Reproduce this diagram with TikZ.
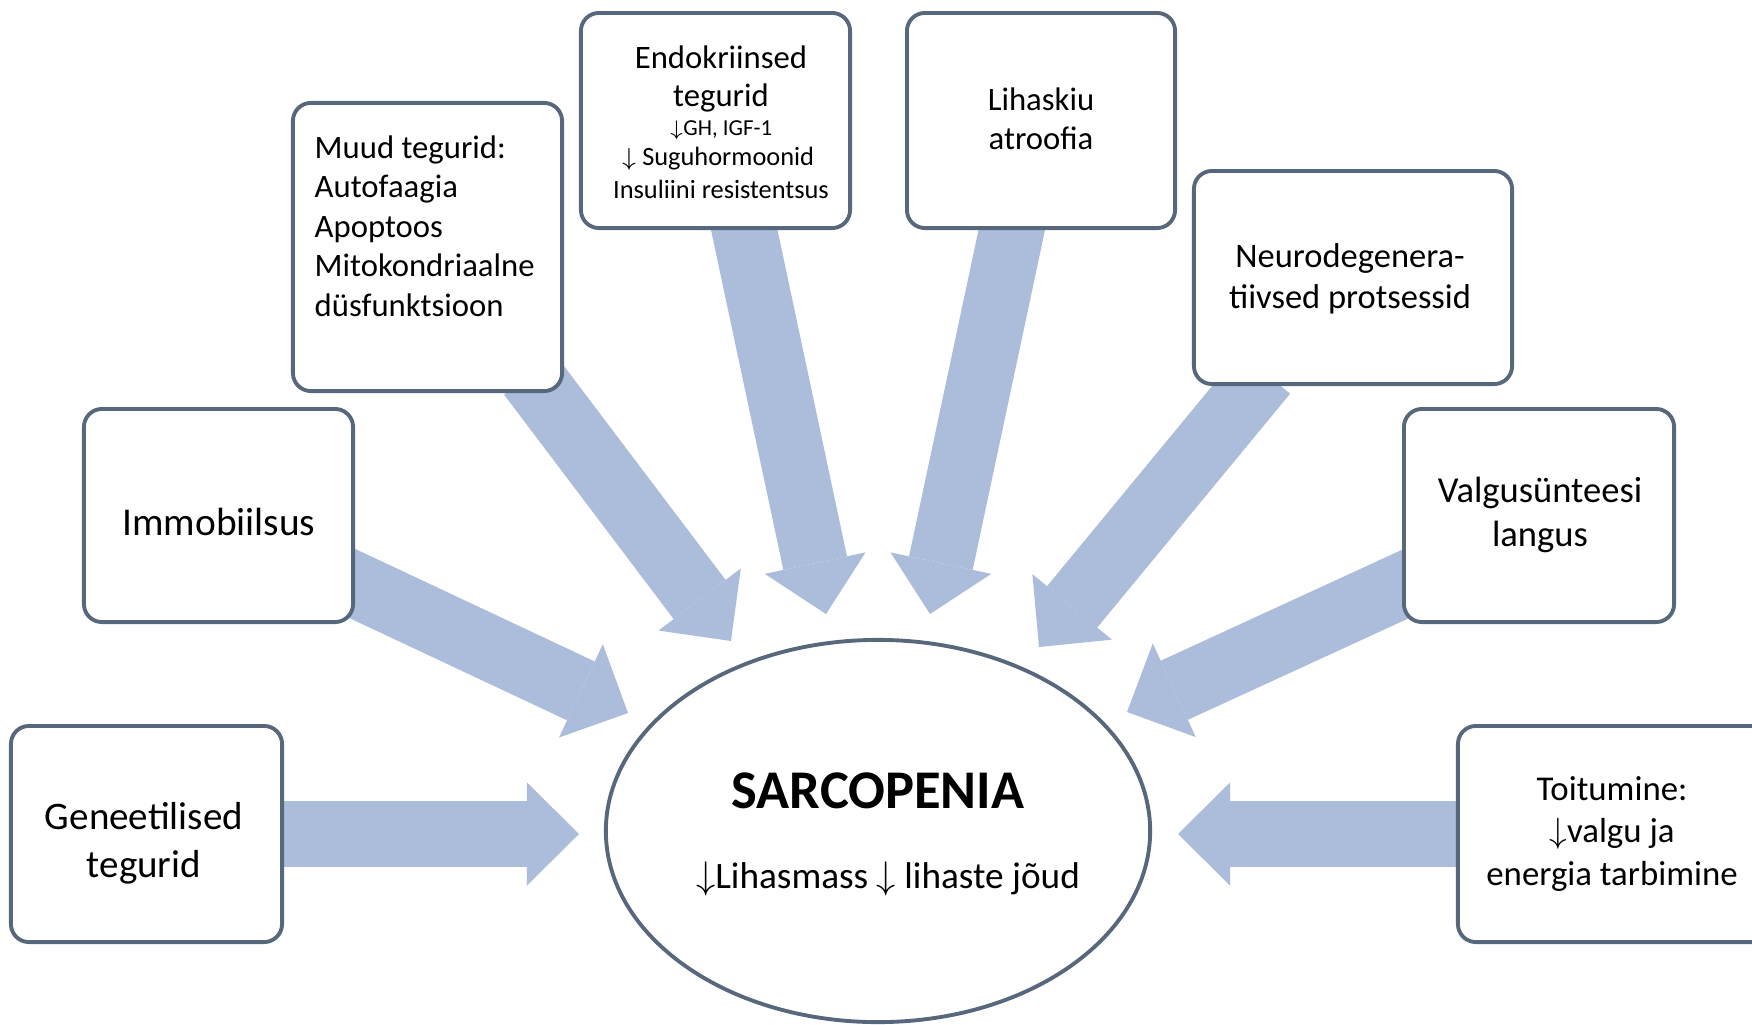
\documentclass[tikz,border=0pt]{standalone}
\usepackage{fontspec}
\setmainfont{Carlito}
\usetikzlibrary{arrows.meta,shapes.geometric}
\definecolor{arrowfill}{RGB}{172,189,219}
\definecolor{boxline}{RGB}{88,104,124}
\newcommand{\da}{$\downarrow$}
\begin{document}
\begin{tikzpicture}[x=0.01cm,y=-0.01cm,
  box/.style={draw=boxline, line width=1.1pt, fill=white, rounded corners=0.18cm, inner sep=0pt, rectangle},
  blk/.style={draw=arrowfill, line width=0.65cm, -{Triangle[length=0.52cm,width=1.03cm,line width=0pt]}},
  lbl/.style={inner sep=0pt, align=center, text=black}]
\useasboundingbox (0,0) rectangle (1752,1024);
\clip (0,0) rectangle (1752,1024);
\fill[white] (0,0) rectangle (1752,1024);
% arrow coordinates
\coordinate (sGen) at (270,834);   \coordinate (tGen) at (579,834);
\coordinate (sImm) at (330,573);   \coordinate (tImm) at (628,713);
\coordinate (sMuud) at (530,375);  \coordinate (tMuud) at (731,641);
\coordinate (sEndo) at (740,210);  \coordinate (tEndo) at (826,614);
\coordinate (sLiha) at (1016,210); \coordinate (tLiha) at (930,614);
\coordinate (sNeuro) at (1265,373);\coordinate (tNeuro) at (1039,647);
\coordinate (sValg) at (1425,575); \coordinate (tValg) at (1127,712);
\coordinate (sToit) at (1470,834); \coordinate (tToit) at (1178,834);
\foreach \n in {Gen,Imm,Muud,Endo,Liha,Neuro,Valg,Toit}
  \draw[blk] (s\n) -- (t\n);
% boxes
\node[box, minimum width=2.71cm, minimum height=2.16cm] (gen) at (146.5,834) {};
\node[box, minimum width=2.69cm, minimum height=2.13cm] (imm) at (218.5,515.5) {};
\node[box, minimum width=2.69cm, minimum height=2.88cm] (muud) at (427.5,247) {};
\node[box, minimum width=2.69cm, minimum height=2.15cm] (endo) at (715.5,120.5) {};
\node[box, minimum width=2.68cm, minimum height=2.15cm] (liha) at (1041,120.5) {};
\node[box, minimum width=3.18cm, minimum height=2.13cm] (neuro) at (1353,277.5) {};
\node[box, minimum width=2.70cm, minimum height=2.13cm] (valg) at (1539,515.5) {};
\node[box, minimum width=3.32cm, minimum height=2.16cm] (toit) at (1624,834) {};
\node[draw=boxline, line width=1.1pt, fill=white, ellipse, inner sep=0pt,
      minimum width=5.44cm, minimum height=3.82cm] (sarc) at (878,831) {};
% texts
\node[lbl, font=\fontsize{11.1}{13.66}\selectfont] (gentxt) at (144,843) {Geneetilised\\tegurid};
\node[lbl, font=\fontsize{11.2}{13.7}\selectfont] (immtxt) at (219,522) {Immobiilsus};
\node[lbl, anchor=west, align=left, font=\fontsize{9.3}{11.24}\selectfont] (muudtxt) at (314,226)
  {Muud tegurid:\\Autofaagia\\Apoptoos\\Mitokondriaalne\\düsfunktsioon};
\node[lbl, font=\fontsize{9.3}{11}\selectfont] (endo1) at (721,57) {Endokriinsed};
\node[lbl, font=\fontsize{9.3}{11}\selectfont] (endo2) at (721,98) {tegurid};
\node[lbl, font=\fontsize{6.5}{8}\selectfont] (endo3) at (721,130) {\da GH, IGF-1};
\node[lbl, font=\fontsize{7.5}{9}\selectfont] (endo4) at (718,159) {\da\ Suguhormoonid};
\node[lbl, font=\fontsize{7.5}{9}\selectfont] (endo5) at (721,189) {Insuliini resistentsus};
\node[lbl, font=\fontsize{9.3}{11.1}\selectfont] (lihatxt) at (1041,118.5) {Lihaskiu\\atroofia};
\node[lbl, font=\fontsize{9.8}{11.7}\selectfont] (neurotxt) at (1350,279) {Neurodegenera-\\tiivsed protsessid};
\node[lbl, font=\fontsize{10.4}{12.5}\selectfont] (valgtxt) at (1540,515) {Valgusünteesi\\langus};
\node[lbl, font=\fontsize{9.9}{11.95}\selectfont] (toittxt) at (1612,834) {Toitumine:\\\da valgu ja\\energia tarbimine};
\node[lbl, font=\fontsize{15.5}{18}\selectfont\bfseries] (sarctxt) at (878,791) {SARCOPENIA};
\node[lbl, font=\fontsize{10.6}{12.5}\selectfont] (sarcsub) at (888,879) {\da Lihasmass \da\ lihaste jõud};
\end{tikzpicture}
\end{document}
